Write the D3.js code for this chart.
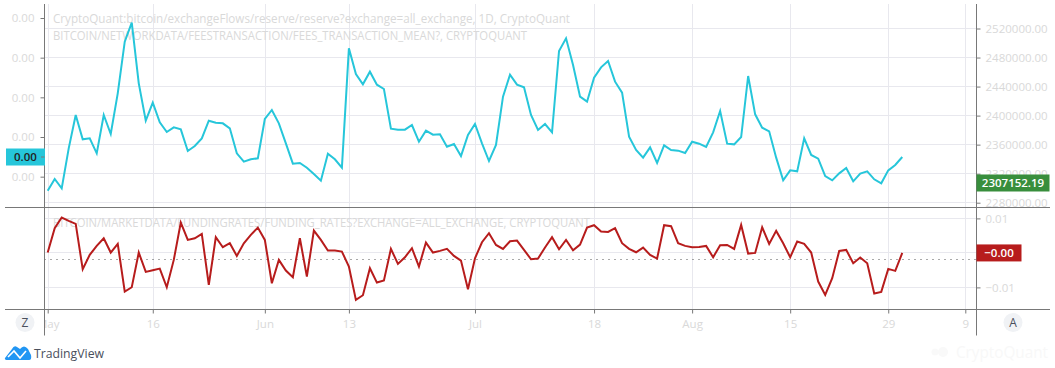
<!-- exchange reserve chart: fees (left scale), reserve (right scale), funding rates (lower pane) -->
<!DOCTYPE html>
<html>
<head>
    <meta charset="utf-8">
    <title>CryptoQuant chart</title>
    <script type="text/javascript" src="https://cdnjs.cloudflare.com/ajax/libs/d3/7.8.5/d3.min.js"></script>
    <style>
        html, body {margin: 0; padding: 0; background: #fff;}
        svg {display: block;}
        text {font-family: "Open Sans", "DejaVu Sans", sans-serif;}
    </style>
</head>
<body>
<div id="chart"></div>
<script type="text/javascript">
// mean fee per transaction, in millionths of a BTC, one value a day from May 1
var feesMean = [58,93,65,185,285,212,215,170,285,228,350,505,562,380,268,322,263,234,248,242,
    177,192,215,268,262,260,245,170,145,152,155,273,300,260,200,139,141,127,108,88,
    169,152,127,485,408,377,415,376,363,244,241,241,255,205,238,226,227,190,198,162,
    225,258,200,147,195,340,406,376,368,285,240,258,233,477,515,435,340,325,397,428,
    447,385,352,220,180,157,188,141,194,180,178,171,205,199,189,233,297,199,197,219,
    402,287,247,236,157,89,119,116,215,165,154,102,89,110,126,86,109,116,92,80,
    119,135,159];

var fundingRates = [0.0001,0.00715,0.01024,0.00927,0.0084,-0.00473,-0.00058,0.00203,0.00425,0.0001,
    0.00261,-0.01121,-0.00995,0.0001,-0.00551,-0.00502,-0.00454,-0.00995,-0.00203,0.00879,
    0.00377,0.00425,0.00551,-0.00927,0.00454,0.00164,0.0028,-0.00087,0.0028,0.00522,
    0.00734,0.00377,-0.00879,-0.00203,-0.00512,-0.00705,0.00425,-0.00686,0.00647,0.00377,
    0.00068,0.00068,0.00039,-0.00396,-0.01362,-0.01227,-0.00444,-0.0086,-0.00802,0.00116,
    -0.00319,-0.00126,0.00135,-0.00396,0.00299,0.0001,0.00058,0.00116,-0.00087,-0.00222,
    -0.01053,-0.00155,0.00309,0.0057,0.00232,0.00116,0.00338,0.00357,0.00087,-0.00184,
    -0.00164,0.00155,0.00454,0.00106,0.00377,0.00077,0.00242,0.00734,0.00802,0.00618,
    0.00609,0.00715,0.0028,0.00116,0.00019,0.00155,-0.00058,-0.00164,0.00802,0.00773,
    0.0028,0.00203,0.00164,0.00174,0.00203,-0.00126,0.00222,0.00232,0.00116,0.00811,
    -0.00019,-0.00001,0.00744,0.00261,0.00638,0.0028,-0.00126,0.00328,0.00261,0.0001,
    -0.00831,-0.01217,-0.00734,0.00058,0.00087,-0.00299,-0.00135,-0.00299,-0.01179,-0.0113,
    -0.00464,-0.00522,-0.00001];

var fundingBase = -0.00184; // the dotted line in the lower pane
var reserveLast = 2307152.19; // only its label shows, no line

var feeTicks = [100,219,338,457,576];
var reserveTicks = [2280000,2320000,2360000,2400000,2440000,2480000,2520000];
var fundingTicks = [-0.01,0,0.01];

var dateTicks = ["2021-05-01","2021-05-16","2021-06-01","2021-06-13","2021-07-01","2021-07-18","2021-08-01","2021-08-15","2021-08-29","2021-09-09"];
var dateLabels = ["May","16","Jun","13","Jul","18","Aug","15","29","9"];

var title1 = "CryptoQuant:bitcoin/exchangeFlows/reserve/reserve?exchange=all_exchange, 1D, CryptoQuant";
var title2 = "BITCOIN/NETWORKDATA/FEESTRANSACTION/FEES_TRANSACTION_MEAN?, CRYPTOQUANT";
var title3 = "BITCOIN/MARKETDATA/FUNDINGRATES/FUNDING_RATES?EXCHANGE=ALL_EXCHANGE, CRYPTOQUANT";

// layout ("top" is taken by window.top, hence paneTop)
var w = 1055, h = 368,
    paneLeft = 44.5, paneRight = 976.5,
    paneTop = 4, paneSplit = 207.5, paneBottom = 309.5, axisEnd = 335.5,
    gridColor = "#e8e8ee", axisColor = "#787878", labelColor = "#d9d9d9",
    fontSize = 11,
    cyan = "#26c6da", red = "#b71c1c", green = "#388e3c";

var xScale = d3.scaleUtc().domain([new Date("2021-05-01"), new Date("2021-09-09")]).range([47.7, 965.3]);
var yFee = d3.scaleLinear().domain([100, 576]).range([176.67, 18]);
var yReserve = d3.scaleLinear().domain([2280000, 2520000]).range([202.7, 28.5]);
var yFunding = d3.scaleLinear().domain([-0.01, 0.01]).range([287.4, 218.4]);

function dayOf(i) { return d3.utcDay.offset(new Date("2021-05-01"), i); }
var tickDates = dateTicks.map(function(d){ return new Date(d); });

var svg = d3.select("#chart").append("svg").attr("width", w).attr("height", h);

var defs = svg.append("defs");
defs.append("clipPath").attr("id", "plotClip").append("rect")
    .attr("x", paneLeft).attr("y", paneTop).attr("width", paneRight - paneLeft).attr("height", axisEnd - paneTop);
defs.append("clipPath").attr("id", "topClip").append("rect")
    .attr("x", paneLeft).attr("y", paneTop).attr("width", paneRight - paneLeft).attr("height", paneSplit - paneTop);
defs.append("clipPath").attr("id", "dateClip").append("rect")
    .attr("x", paneLeft).attr("y", -10).attr("width", paneRight - paneLeft).attr("height", 50);

// gridlines
var grid = svg.append("g").attr("clip-path", "url(#plotClip)");
grid.selectAll(".vgrid").data(tickDates).enter().append("line")
    .attr("x1", function(d){ return Math.round(xScale(d)) + 0.5; })
    .attr("x2", function(d){ return Math.round(xScale(d)) + 0.5; })
    .attr("y1", paneTop).attr("y2", paneBottom)
    .attr("stroke", gridColor);
grid.selectAll(".hgrid").data(reserveTicks).enter().append("line")
    .attr("x1", paneLeft).attr("x2", paneRight)
    .attr("y1", function(d){ return Math.floor(yReserve(d)) + 0.5; })
    .attr("y2", function(d){ return Math.floor(yReserve(d)) + 0.5; })
    .attr("stroke", gridColor);
grid.selectAll(".hgrid2").data(fundingTicks).enter().append("line")
    .attr("x1", paneLeft).attr("x2", paneRight)
    .attr("y1", function(d){ return Math.floor(yFunding(d)) + 0.5; })
    .attr("y2", function(d){ return Math.floor(yFunding(d)) + 0.5; })
    .attr("stroke", gridColor);

// titles sit under the lines, squeezed to the widths the source font gives
var titles = svg.append("g").attr("fill", labelColor).attr("font-size", 12);
function addTitle(y, txt, width) {
    titles.append("text").attr("x", 53).attr("y", y)
        .attr("textLength", width).attr("lengthAdjust", "spacingAndGlyphs").text(txt);
}
addTitle(23, title1, 517);
addTitle(40, title2, 474);
addTitle(227, title3, 537);

// dotted base line of the funding pane
svg.append("line")
    .attr("x1", paneLeft).attr("x2", paneRight)
    .attr("y1", Math.round(yFunding(fundingBase)) + 0.5)
    .attr("y2", Math.round(yFunding(fundingBase)) + 0.5)
    .attr("stroke", "#555").attr("stroke-dasharray", "1,5");

// series
var feeLine = d3.line().x(function(d, i){ return xScale(dayOf(i)); }).y(function(d){ return yFee(d); });
var fundingLine = d3.line().x(function(d, i){ return xScale(dayOf(i)); }).y(function(d){ return yFunding(d); });

svg.append("path").attr("d", feeLine(feesMean))
    .attr("fill", "none").attr("stroke", cyan).attr("stroke-width", 2)
    .attr("clip-path", "url(#topClip)");
svg.append("path").attr("d", fundingLine(fundingRates))
    .attr("fill", "none").attr("stroke", red).attr("stroke-width", 2)
    .attr("clip-path", "url(#plotClip)");

// axes, drawn with d3 then restyled
function styleAxis(g) {
    g.select(".domain").remove();
    g.selectAll("line").attr("stroke", axisColor);
    g.selectAll("text").attr("fill", labelColor).attr("font-size", fontSize + 0.5).attr("font-family", null);
}

svg.append("g").attr("transform", "translate(" + paneLeft + ",0)")
    .call(d3.axisLeft(yFee).tickValues(feeTicks).tickSize(4).tickPadding(6)
        .tickFormat(function(d){ return d3.format(".2f")(d / 1e6); }))
    .call(styleAxis);

svg.append("g").attr("transform", "translate(" + paneRight + ",0)")
    .call(d3.axisRight(yReserve).tickValues(reserveTicks).tickSize(4).tickPadding(5)
        .tickFormat(d3.format(".2f")))
    .call(styleAxis);

svg.append("g").attr("transform", "translate(" + paneRight + ",0)")
    .call(d3.axisRight(yFunding).tickValues([-0.01, 0.01]).tickSize(4).tickPadding(5)
        .tickFormat(function(d){ return d3.format(".2f")(d).replace("-", "\u2212"); }))
    .call(styleAxis);

svg.append("g").attr("transform", "translate(0," + paneBottom + ")")
    .attr("clip-path", "url(#dateClip)")
    .call(d3.axisBottom(xScale).tickValues(tickDates).tickSize(4).tickPadding(6)
        .tickFormat(function(d, i){ return dateLabels[i]; }))
    .call(styleAxis);

// frame
function rule(x1, y1, x2, y2) {
    svg.append("line").attr("x1", x1).attr("y1", y1).attr("x2", x2).attr("y2", y2)
        .attr("stroke", axisColor);
}
rule(paneLeft, paneTop, paneLeft, axisEnd);
rule(paneRight, paneTop, paneRight, axisEnd);
rule(5, paneSplit, 1050, paneSplit);
rule(5, paneBottom, 1050, paneBottom);

// value labels on the axes
function valueLabel(x, yMid, width, fill, color, txt) {
    svg.append("rect").attr("x", x).attr("y", yMid - 8.5).attr("width", width).attr("height", 17).attr("fill", fill);
    svg.append("text").attr("x", x + width / 2).attr("y", yMid + 4).attr("text-anchor", "middle")
        .attr("font-size", fontSize + 0.5).attr("font-weight", 600).attr("fill", color).text(txt);
}
var lastFee = feesMean[feesMean.length - 1];
valueLabel(6, yFee(lastFee), 39, cyan, "#222", d3.format(".2f")(lastFee / 1e6));
valueLabel(paneRight, yReserve(reserveLast), 73, green, "#fff", d3.format(".2f")(reserveLast));
valueLabel(paneRight, yFunding(fundingRates[fundingRates.length - 1]), 45, red, "#fff", "\u22120.00");
rule(41, yFee(lastFee), paneLeft, yFee(lastFee));

// scale buttons
function button(x, txt) {
    svg.append("circle").attr("cx", x).attr("cy", 322.5).attr("r", 9.5).attr("fill", "#f0f2f5");
    svg.append("text").attr("x", x).attr("y", 327).attr("text-anchor", "middle")
        .attr("font-size", 12).attr("fill", "#4a4f5c").text(txt);
}
button(25, "Z");
button(1013, "A");

// TradingView mark and name
svg.append("path")
    .attr("d", "M5 358 L12 349 Q14 345 17 347 L20 349 Q24 344 28 349 L31 355 Q32 360 29 360 L8 360 Q4 360 5 358 Z")
    .attr("fill", "#2196f3");
svg.append("path")
    .attr("d", "M8 357 L14 351 L20 358 L26 351")
    .attr("fill", "none").attr("stroke", "#fff").attr("stroke-width", 1.6);
svg.append("text").attr("x", 34).attr("y", 358).attr("font-size", 13).attr("fill", "#4a4f5c")
    .attr("textLength", 70).attr("lengthAdjust", "spacingAndGlyphs").text("TradingView");

// CryptoQuant watermark
svg.append("circle").attr("cx", 943).attr("cy", 352).attr("r", 5).attr("fill", "#f9f9f9");
svg.append("circle").attr("cx", 935).attr("cy", 352).attr("r", 3.5).attr("fill", "#f9f9f9");
svg.append("text").attr("x", 956).attr("y", 358).attr("font-size", 17).attr("fill", "#f8f8f8")
    .attr("textLength", 92).attr("lengthAdjust", "spacingAndGlyphs").text("CryptoQuant");
</script>
</body>
</html>
